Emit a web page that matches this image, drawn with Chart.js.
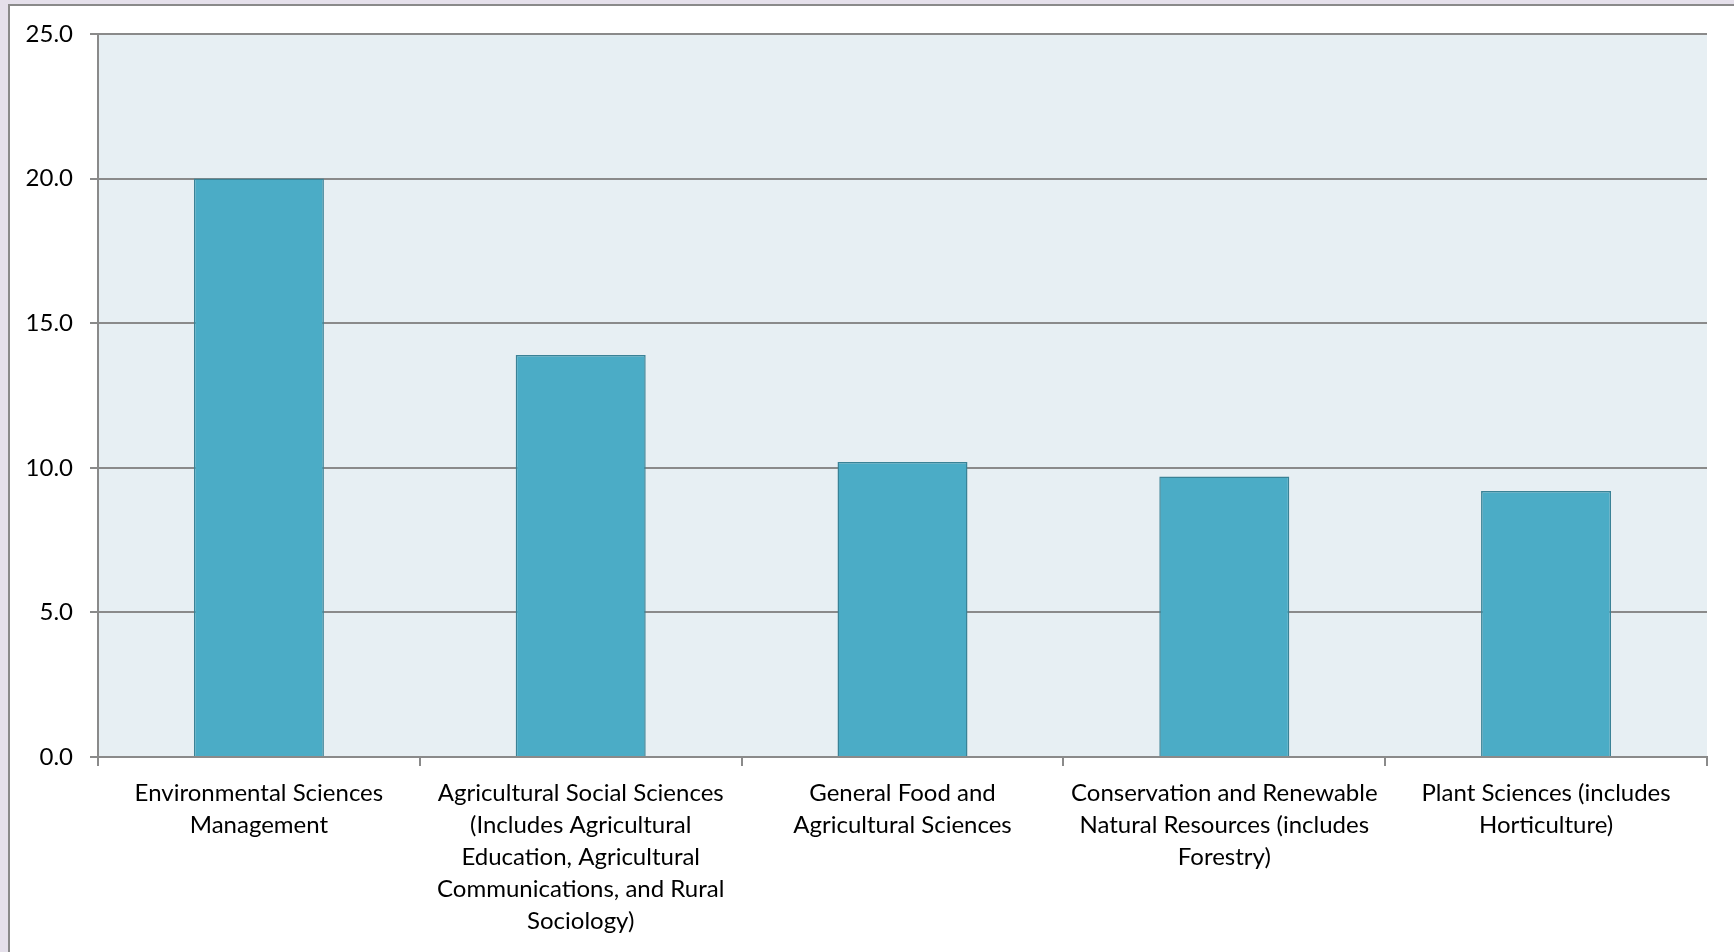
<!DOCTYPE html>
<html>
<head>
<meta charset="utf-8">
<script src="https://cdn.jsdelivr.net/npm/chart.js@4.4.0/dist/chart.umd.min.js"></script>
<style>
  html, body { margin: 0; padding: 0; width: 1734px; height: 952px; overflow: hidden; background: #e5e0eb; }
  #panel { position: absolute; left: 8px; top: 4px; width: 1740px; height: 960px; background: #ffffff;
           border-left: 2px solid #8a8a8a; border-top: 2px solid #8a8a8a; }
  #wrap { position: absolute; left: 0; top: 0; width: 1734px; height: 952px; }
</style>
</head>
<body>
<div id="panel"></div>
<div id="wrap"><canvas id="c" width="1734" height="952"></canvas></div>
<script>
const categories = [
  ["Environmental Sciences", "Management"],
  ["Agricultural Social Sciences", "(Includes Agricultural", "Education, Agricultural", "Communications, and Rural", "Sociology)"],
  ["General Food and", "Agricultural Sciences"],
  ["Conservation and Renewable", "Natural Resources (includes", "Forestry)"],
  ["Plant Sciences (includes", "Horticulture)"]
];
const values = [20.0, 13.9, 10.2, 9.7, 9.2];
const yTicks = [0, 5, 10, 15, 20, 25];

const plotBg = {
  id: 'plotBg',
  beforeDraw(chart) {
    const {ctx, chartArea: a} = chart;
    ctx.save();
    ctx.fillStyle = '#e7eff3';
    ctx.fillRect(a.left, a.top, a.right - a.left, a.bottom - a.top);
    ctx.restore();
  }
};

const FONT = "Lato, 'Open Sans', sans-serif";

new Chart(document.getElementById('c'), {
  type: 'bar',
  data: {
    labels: categories,
    datasets: [{
      data: values,
      backgroundColor: '#4bacc6',
      borderColor: '#3a8296',
      borderWidth: 1.5,
      borderSkipped: 'bottom',
      barPercentage: 0.404,
      categoryPercentage: 1.0
    }]
  },
  options: {
    responsive: false,
    animation: false,
    devicePixelRatio: 1,
    layout: { padding: { left: 0, right: 27, top: 34, bottom: 0 } },
    plugins: { legend: { display: false }, tooltip: { enabled: false } },
    scales: {
      x: {
        afterFit(scale) { scale.height = 195; },
        grid: { display: true, drawOnChartArea: false, offset: true, color: '#8a8a8a', lineWidth: 2, tickLength: 9 },
        border: { display: true, color: '#8a8a8a', width: 2 },
        ticks: {
          color: '#000000',
          font: { family: FONT, size: 24, lineHeight: 1.34 },
          padding: 11,
          maxRotation: 0,
          autoSkip: false
        }
      },
      y: {
        min: 0, max: 25,
        afterFit(scale) { scale.width = 98; },
        afterBuildTicks(scale) { scale.ticks = yTicks.map(v => ({ value: v })); },
        grid: { color: '#8a8a8a', lineWidth: 2, tickLength: 8 },
        border: { display: true, color: '#8a8a8a', width: 2 },
        ticks: {
          color: '#000000',
          font: { family: FONT, size: 24 },
          padding: 17,
          callback: v => Number(v).toFixed(1)
        }
      }
    }
  },
  plugins: [plotBg]
});
</script>
</body>
</html>
